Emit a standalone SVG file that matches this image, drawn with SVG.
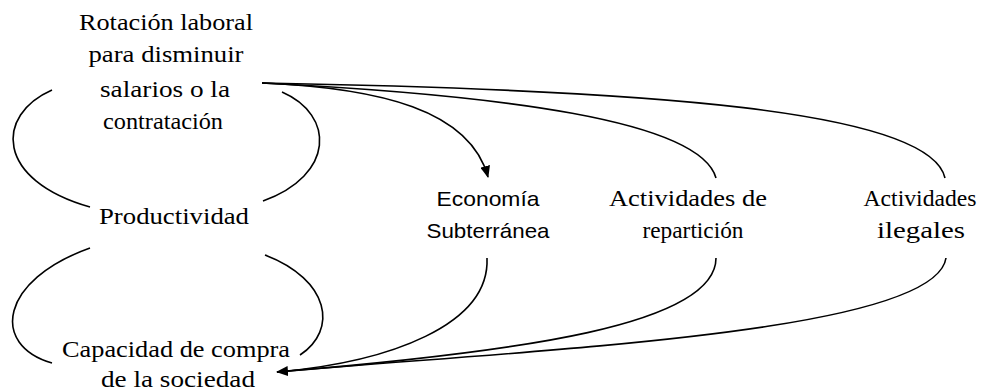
<svg xmlns="http://www.w3.org/2000/svg" width="992" height="392" viewBox="0 0 992 392">
<style>
text{font-family:"Liberation Serif","Times New Roman",serif;font-size:23px;fill:#000;text-anchor:middle}
.s{font-family:"Liberation Sans",Arial,sans-serif;font-size:21px}
.c{fill:none;stroke:#000;stroke-width:1.6}
</style>
<defs>
<marker id="ah" markerWidth="12" markerHeight="10" refX="11" refY="5" orient="auto" markerUnits="userSpaceOnUse">
<path d="M0,0 L12,5 L0,10 Z" fill="#000"/>
</marker>
</defs>
<rect width="992" height="392" fill="#fff"/>
<g id="rotacion">
<text x="166" y="30" textLength="174" lengthAdjust="spacingAndGlyphs">Rotación laboral</text>
<text x="166" y="62" textLength="155" lengthAdjust="spacingAndGlyphs">para disminuir</text>
<text x="165" y="97" textLength="130" lengthAdjust="spacingAndGlyphs">salarios o la</text>
<text x="163" y="129" textLength="120" lengthAdjust="spacingAndGlyphs">contratación</text>
</g>
<g id="productividad">
<text x="174" y="224" textLength="150" lengthAdjust="spacingAndGlyphs">Productividad</text>
</g>
<g id="capacidad">
<text x="176" y="357" textLength="228" lengthAdjust="spacingAndGlyphs">Capacidad de compra</text>
<text x="178" y="387" textLength="154" lengthAdjust="spacingAndGlyphs">de la sociedad</text>
</g>
<g id="economia">
<text class="s" x="488" y="206" textLength="103" lengthAdjust="spacingAndGlyphs">Economía</text>
<text class="s" x="488" y="238" textLength="123" lengthAdjust="spacingAndGlyphs">Subterránea</text>
</g>
<g id="reparticion">
<text x="688" y="206" textLength="158" lengthAdjust="spacingAndGlyphs">Actividades de</text>
<text x="693" y="238" textLength="101" lengthAdjust="spacingAndGlyphs">repartición</text>
</g>
<g id="ilegales">
<text x="920" y="206" textLength="113" lengthAdjust="spacingAndGlyphs">Actividades</text>
<text x="921" y="238" textLength="88" lengthAdjust="spacingAndGlyphs">ilegales</text>
</g>
<g id="connectors">
<path class="c" d="M52,90 C-5,115 -5,180 90,207"/>
<path class="c" d="M282,92 C335,115 335,175 263,201"/>
<path class="c" d="M90,248 C0,280 -10,345 52,363"/>
<path class="c" d="M265,255 C330,280 338,330 300,355"/>
<path class="c" d="M262,83 C380,88 470,110 488,177" marker-end="url(#ah)"/>
<path class="c" d="M262,83 C500,95 700,120 716,178"/>
<path class="c" d="M262,83 C650,90 930,110 945,178"/>
<path class="c" d="M487,258 C490,325 390,362 277,372" marker-end="url(#ah)"/>
<path class="c" d="M716,258 C716,325 520,352 277,372"/>
<path class="c" d="M946,258 C935,335 520,350 277,372"/>
</g>
</svg>
